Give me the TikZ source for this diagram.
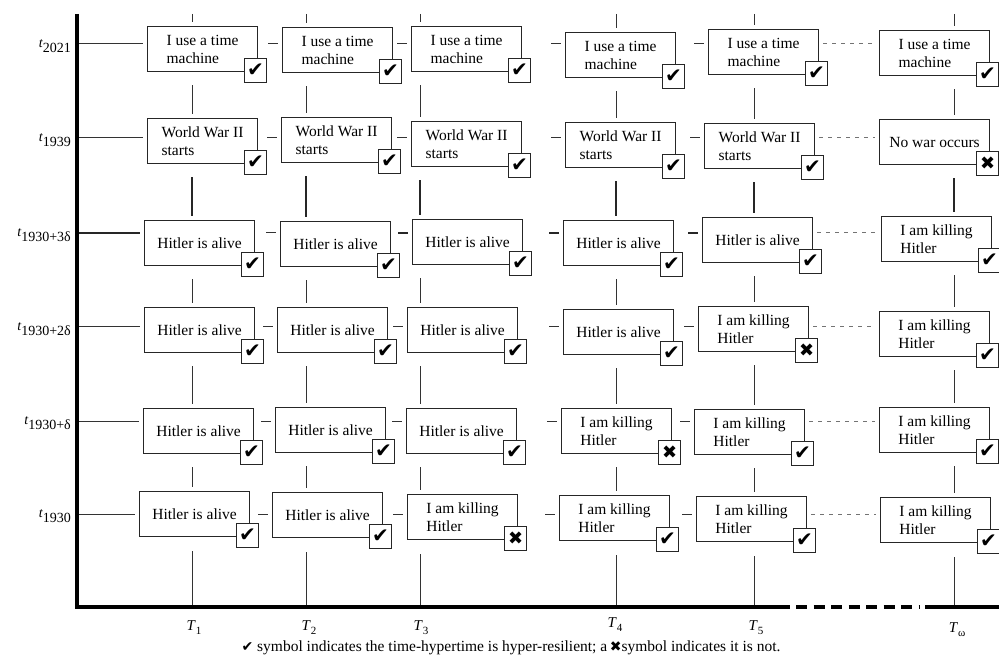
\documentclass[tikz,border=0pt]{standalone}
\usepackage{fontspec}
\setmainfont{Liberation Serif}
\newfontfamily\symf{DejaVu Sans}
\usetikzlibrary{calc}
\newcommand{\mkok}{{\fontsize{20}{20}\selectfont ✔}}
\newcommand{\mkno}{{\fontsize{18}{18}\selectfont ✖}}
\newcommand{\tbox}[5]{%
  \node[tbx] (#1) at (#2,#3) {#4};
  \node[chk] (#1k) at ($(#1.south east)+(-2.5,-1.5)$) {#5};}
\newcommand{\rlabel}[2]{{\itshape t}\raisebox{-4.5pt}{#2}}
\begin{document}
\begin{tikzpicture}[x=1pt,y=-1pt,
  tbx/.style={draw=black!85, line width=1.1pt, fill=white, minimum width=110pt,
    minimum height=45pt, inner sep=2pt, align=left, anchor=north west,
    font=\fontsize{15.5}{18}\selectfont},
  chk/.style={draw=black!85, line width=1.1pt, fill=white, minimum width=22pt,
    minimum height=24pt, inner sep=0pt, font=\symf},
  thinl/.style={line width=1pt, draw=black!80},
  boldl/.style={line width=1.8pt, draw=black!85},
  dotl/.style={line width=1pt, draw=black!55, dash pattern=on 4pt off 5pt},
  rlab/.style={anchor=east, inner sep=0pt, font=\fontsize{14}{14}\selectfont},
  clab/.style={inner sep=0pt, font=\fontsize{15}{15}\selectfont}]
\useasboundingbox (0,0) rectangle (999,660);

% columns and rows
\coordinate (X1) at (192,0);
\coordinate (X2) at (306,0);
\coordinate (X3) at (420,0);
\coordinate (X4) at (616,0);
\coordinate (X5) at (754,0);
\coordinate (X6) at (954,0);
\coordinate (TopY) at (0,14);
\coordinate (O) at (77,607);
\coordinate (R1) at (77,44);
\coordinate (R2) at (77,138);
\coordinate (R3) at (77,233);
\coordinate (R4) at (77,327);
\coordinate (R5) at (77,421);
\coordinate (R6) at (77,514);

% boxes
\tbox{b11}{147}{26}{I use a time\\machine}{\mkok}
\tbox{b12}{282}{27}{I use a time\\machine}{\mkok}
\tbox{b13}{411}{26}{I use a time\\machine}{\mkok}
\tbox{b14}{565}{32}{I use a time\\machine}{\mkok}
\tbox{b15}{708}{29}{I use a time\\machine}{\mkok}
\tbox{b16}{879}{30}{I use a time\\machine}{\mkok}

\tbox{b21}{147}{118}{World War II\\starts}{\mkok}
\tbox{b22}{281}{117}{World War II\\starts}{\mkok}
\tbox{b23}{411}{121}{World War II\\starts}{\mkok}
\tbox{b24}{565}{122}{World War II\\starts}{\mkok}
\tbox{b25}{704}{123}{World War II\\starts}{\mkok}
\tbox{b26}{879}{119}{No war occurs}{\mkno}

\tbox{b31}{144}{220}{Hitler is alive}{\mkok}
\tbox{b32}{280}{221}{Hitler is alive}{\mkok}
\tbox{b33}{412}{219}{Hitler is alive}{\mkok}
\tbox{b34}{563}{220}{Hitler is alive}{\mkok}
\tbox{b35}{702}{217}{Hitler is alive}{\mkok}
\tbox{b36}{881}{216}{I am killing\\Hitler}{\mkok}

\tbox{b41}{144}{307}{Hitler is alive}{\mkok}
\tbox{b42}{277}{307}{Hitler is alive}{\mkok}
\tbox{b43}{407}{307}{Hitler is alive}{\mkok}
\tbox{b44}{563}{309}{Hitler is alive}{\mkok}
\tbox{b45}{698}{306}{I am killing\\Hitler}{\mkno}
\tbox{b46}{879}{311}{I am killing\\Hitler}{\mkok}

\tbox{b51}{143}{408}{Hitler is alive}{\mkok}
\tbox{b52}{275}{407}{Hitler is alive}{\mkok}
\tbox{b53}{406}{408}{Hitler is alive}{\mkok}
\tbox{b54}{561}{408}{I am killing\\Hitler}{\mkno}
\tbox{b55}{694}{409}{I am killing\\Hitler}{\mkok}
\tbox{b56}{879}{407}{I am killing\\Hitler}{\mkok}

\tbox{b61}{139}{491}{Hitler is alive}{\mkok}
\tbox{b62}{272}{492}{Hitler is alive}{\mkok}
\tbox{b63}{407}{494}{I am killing\\Hitler}{\mkno}
\tbox{b64}{559}{495}{I am killing\\Hitler}{\mkok}
\tbox{b65}{696}{496}{I am killing\\Hitler}{\mkok}
\tbox{b66}{880}{497}{I am killing\\Hitler}{\mkok}

% horizontal connectors
\foreach \r in {1,2,4,5,6}{
  \draw[thinl] (R\r) -- ($(b\r1.west |- R\r)+(-4,0)$);
  \foreach \c [evaluate=\c as \n using int(\c+1)] in {1,...,4}{
    \draw[thinl] ($(b\r\n.west |- R\r)+(-14,0)$) -- ($(b\r\n.west |- R\r)+(-4,0)$);
  }
  \draw[dotl] ($(b\r5.east |- R\r)+(4,0)$) -- ($(b\r6.west |- R\r)+(-4,0)$);
}
\draw[boldl] (R3) -- ($(b31.west |- R3)+(-4,0)$);
\draw[thinl] ($(b32.west |- R3)+(-14,0)$) -- ($(b32.west |- R3)+(-4,0)$);
\foreach \c [evaluate=\c as \n using int(\c+1)] in {2,3,4}{
  \draw[boldl] ($(b3\n.west |- R3)+(-14,0)$) -- ($(b3\n.west |- R3)+(-4,0)$);
}
\draw[dotl] ($(b35.east |- R3)+(4,0)$) -- ($(b36.west |- R3)+(-4,0)$);

% vertical connectors
\foreach \c in {1,...,6}{
  \draw[thinl, shorten >=4pt] (X\c |- TopY) -- (b1\c.north -| X\c);
  \foreach \r [evaluate=\r as \n using int(\r+1)] in {1,3,4,5}{
    \draw[thinl, shorten <=13pt, shorten >=4pt] (b\r\c.south -| X\c) -- (b\n\c.north -| X\c);
  }
  \draw[boldl, shorten <=13pt, shorten >=4pt] (b2\c.south -| X\c) -- (b3\c.north -| X\c);
  \draw[thinl, shorten <=14pt] (b6\c.south -| X\c) -- (X\c |- O);
}

% axes
\draw[line width=4pt] (77,14) -- (77,609);
\draw[line width=4pt] (75,607) -- (790,607);
\draw[line width=4pt, dash pattern=on 11pt off 6.5pt] (796,607) -- (920,607);
\draw[line width=4pt] (925,607) -- (999,607);

% row labels
\node[rlab] (L1) at (71,46) {\rlabel{}{2021}};
\node[rlab] (L2) at (71,140) {\rlabel{}{1939}};
\node[rlab] (L3) at (71,235) {\rlabel{}{1930+3δ}};
\node[rlab] (L4) at (71,329) {\rlabel{}{1930+2δ}};
\node[rlab] (L5) at (71,423) {\rlabel{}{1930+δ}};
\node[rlab] (L6) at (71,516) {\rlabel{}{1930}};

% column labels
\node[clab] (T1) at (194,628) {\textit{T}\raisebox{-4pt}{\fontsize{11}{11}\selectfont 1}};
\node[clab] (T2) at (309,628) {\textit{T}\raisebox{-4pt}{\fontsize{11}{11}\selectfont 2}};
\node[clab] (T3) at (421,628) {\textit{T}\raisebox{-4pt}{\fontsize{11}{11}\selectfont 3}};
\node[clab] (T4) at (615,625) {\textit{T}\raisebox{-4pt}{\fontsize{11}{11}\selectfont 4}};
\node[clab] (T5) at (756,628) {\textit{T}\raisebox{-4pt}{\fontsize{11}{11}\selectfont 5}};
\node[clab] (T6) at (957,630) {\textit{T}\raisebox{-4pt}{\fontsize{11}{11}\selectfont ω}};

% caption
\node[inner sep=0pt, font=\fontsize{15.5}{16}\selectfont] (cap) at (511,648)
  {{\symf\fontsize{14}{14}\selectfont ✔} symbol indicates the time-hypertime is hyper-resilient; a\,{\symf\fontsize{14}{14}\selectfont ✖}symbol indicates it is not.};
\end{tikzpicture}
\end{document}
